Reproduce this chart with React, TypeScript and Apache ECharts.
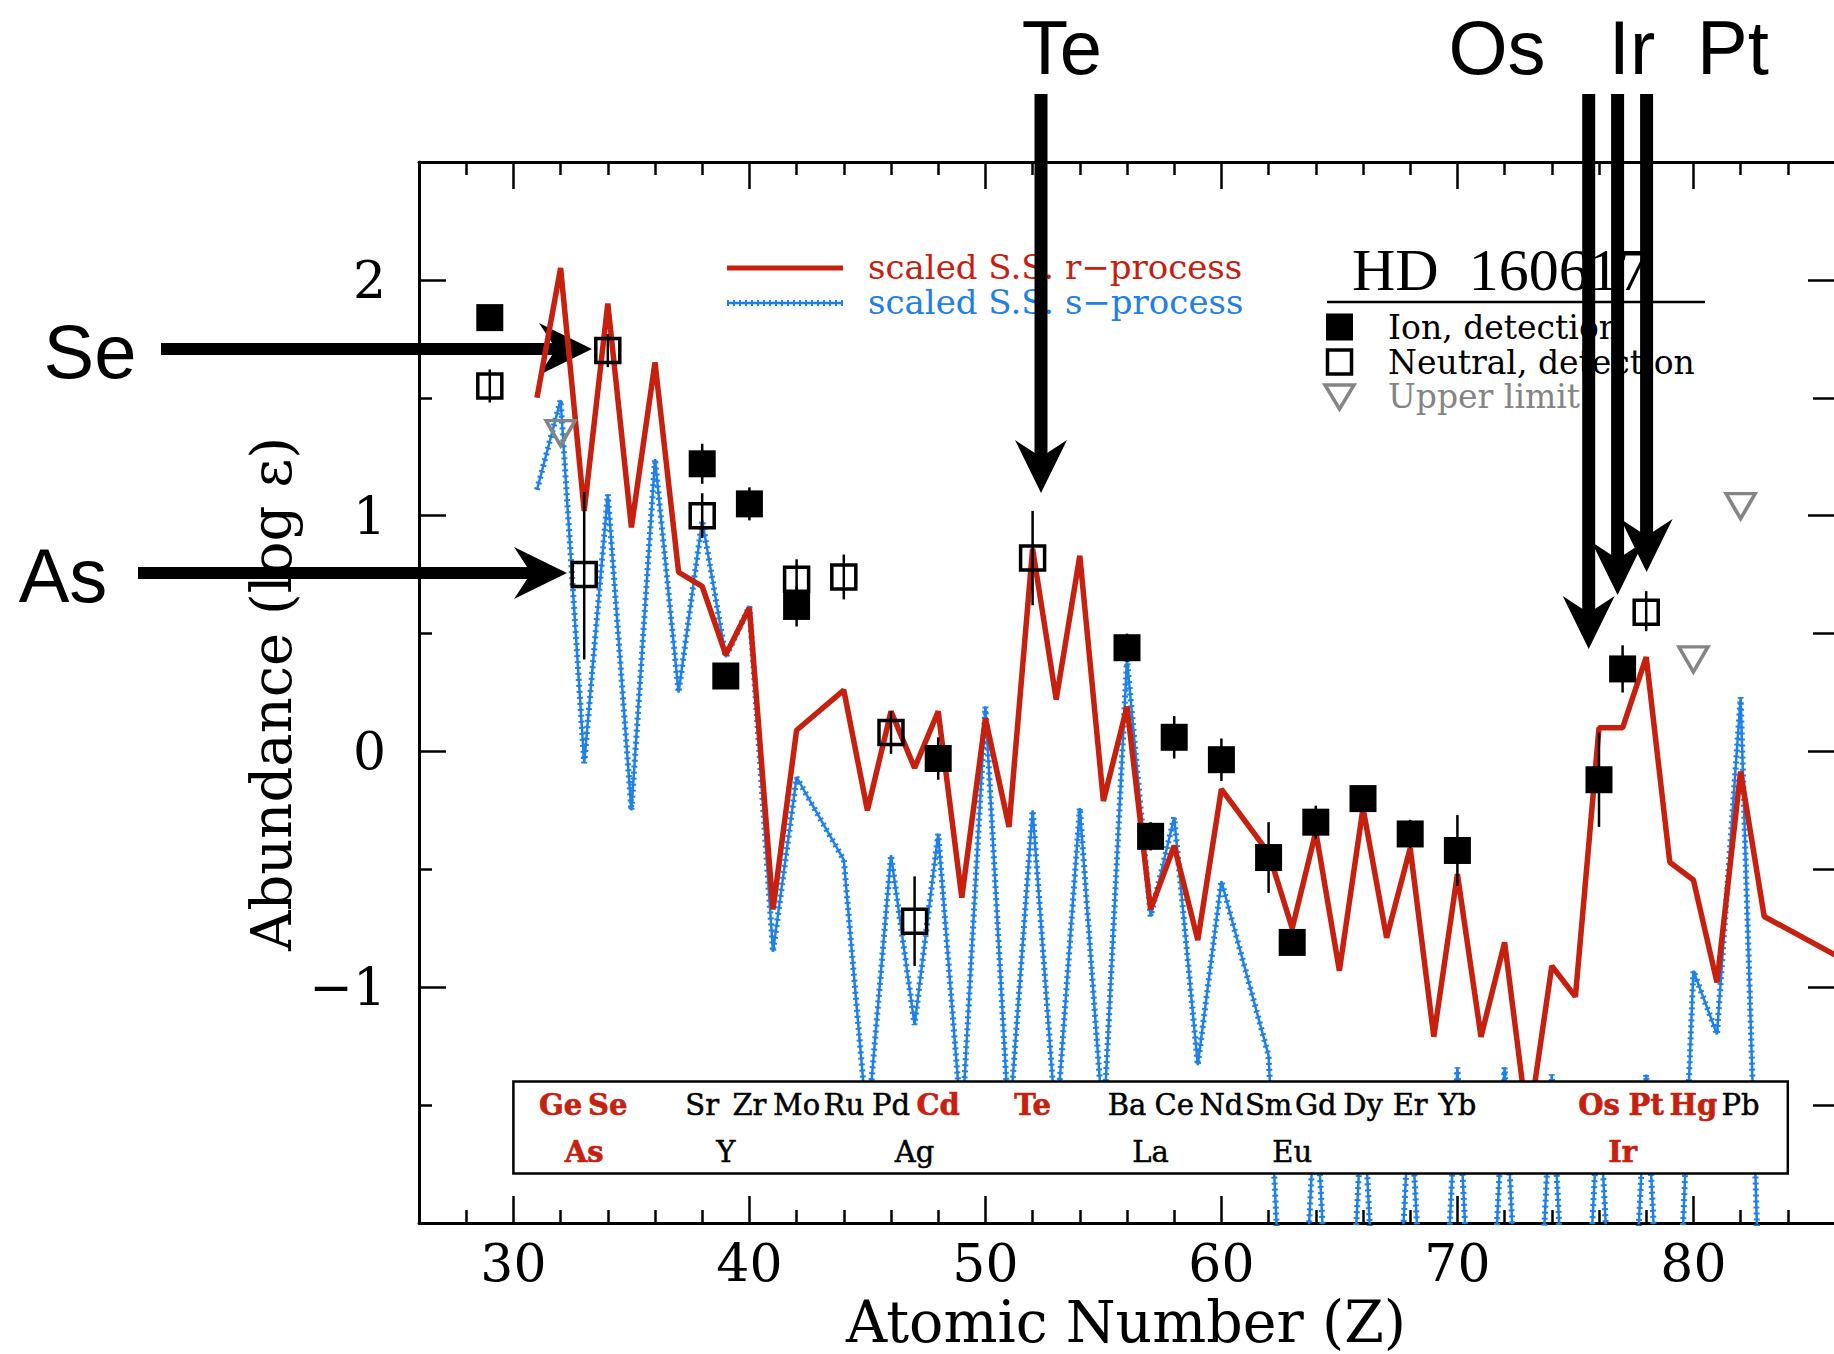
import React, { useEffect, useRef } from "react";
import * as echarts from "echarts";

// ---------------- data ----------------
const RED_Z = [31, 32, 33, 34, 35, 36, 37, 38, 39, 40, 41, 42, 44, 45, 46, 47, 48, 49, 50, 51, 52, 53, 54, 55, 56, 57, 58, 59, 60, 62, 63, 64, 65, 66, 67, 68, 69, 70, 71, 72, 73, 74, 75, 76, 77, 78, 79, 80, 81, 82, 83, 90];
const RED_V = [1.5, 2.05, 1.02, 1.9, 0.95, 1.65, 0.76, 0.7, 0.41, 0.61, -0.67, 0.09, 0.26, -0.25, 0.17, -0.07, 0.17, -0.62, 0.14, -0.32, 0.86, 0.22, 0.83, -0.21, 0.19, -0.67, -0.4, -0.8, -0.16, -0.43, -0.75, -0.34, -0.93, -0.24, -0.79, -0.41, -1.21, -0.52, -1.21, -0.81, -1.6, -0.91, -1.04, 0.1, 0.1, 0.4, -0.47, -0.545, -0.98, -0.085, -0.7, -1.08];

const BLUE_Z = [31, 32, 33, 34, 35, 36, 37, 38, 39, 40, 41, 42, 44, 45, 46, 47, 48, 49, 50, 51, 52, 53, 54, 55, 56, 57, 58, 59, 60, 62, 63, 64, 65, 66, 67, 68, 69, 70, 71, 72, 73, 74, 75, 76, 77, 78, 79, 80, 81, 82, 83];
const BLUE_V = [1.11, 1.49, -0.05, 1.09, -0.25, 1.24, 0.25, 0.98, 0.4, 0.615, -0.85, -0.11, -0.46, -1.6, -0.44, -1.16, -0.35, -1.6, 0.19, -1.6, -0.25, -1.6, -0.24, -1.6, 0.39, -0.7, -0.28, -1.33, -0.55, -1.29, -3.4, -1.45, -3.4, -1.45, -3.4, -1.45, -3.4, -1.34, -3.4, -1.34, -3.4, -1.37, -3.4, -1.45, -3.4, -1.37, -3.4, -0.93, -1.2, 0.23, -3.0];

// Ion detections (filled squares), symmetric errors
const ION_Z = [29, 38, 39, 40, 42, 48, 56, 57, 58, 60, 62, 63, 64, 66, 68, 70, 76, 77];
const ION_V = [1.84, 1.22, 0.32, 1.05, 0.615, -0.03, 0.44, -0.36, 0.06, -0.035, -0.45, -0.81, -0.3, -0.2, -0.35, -0.42, -0.12, 0.35];
const ION_ERR = [0, 0.085, 0, 0.07, 0.085, 0.09, 0.06, 0.06, 0.09, 0.09, 0.15, 0, 0.07, 0, 0.06, 0.15, 0.2, 0.1];

// Neutral detections (open squares), low / high error-bar ends
const NEU_Z = [29, 33, 34, 38, 42, 44, 46, 47, 52, 78];
const NEU_V = [1.55, 0.75, 1.7, 1.0, 0.73, 0.74, 0.08, -0.72, 0.82, 0.59];
const NEU_LO = [1.48, 0.39, 1.63, 0.905, 0.645, 0.645, -0.01, -0.91, 0.62, 0.51];
const NEU_HI = [1.62, 1.1, 1.77, 1.095, 0.815, 0.835, 0.17, -0.53, 1.02, 0.68];

// Upper limits (grey open triangles)
const UPPER_Z = [32, 80, 82];
const UPPER_V = [1.35, 0.39, 1.04];

// Element label rows in the bottom box
const TOP_LABELS = ["Ge", "Se", "Sr", "Zr", "Mo", "Ru", "Pd", "Cd", "Te", "Ba", "Ce", "Nd", "Sm", "Gd", "Dy", "Er", "Yb", "Os", "Pt", "Hg", "Pb"];
const TOP_LABEL_Z = [32, 34, 38, 40, 42, 44, 46, 48, 52, 56, 58, 60, 62, 64, 66, 68, 70, 76, 78, 80, 82];
const BOTTOM_LABELS = ["As", "Y", "Ag", "La", "Eu", "Ir"];
const BOTTOM_LABEL_Z = [33, 39, 47, 57, 63, 77];
const RED_LABELS = ["Ge", "Se", "As", "Cd", "Te", "Os", "Pt", "Hg", "Ir"];

// Axis ticks
const X_MAJOR = [30, 40, 50, 60, 70, 80];
const X_MINOR = [28, 32, 34, 36, 38, 42, 44, 46, 48, 52, 54, 56, 58, 62, 64, 66, 68, 72, 74, 76, 78, 82, 84];
const Y_MAJOR = [-1, 0, 1, 2];
const Y_MINOR = [-1.5, -0.5, 0.5, 1.5];

// ---------------- styles ----------------
const RED = "#c8200f";
const BLUE = "#1f80e8";
const GREY = "#858585";
const SERIF = '"DejaVu Serif", serif';
const TIMES = '"Liberation Serif", serif';
const SANS = '"Liberation Sans", Arial, sans-serif';

const X_MIN = 26;
const X_MAX = 86;
const Y_MIN = -2;
const Y_MAX = 2.5;
const BOX = [30, -1.4, 84, -1.79];
const ROW1 = -1.5;
const ROW2 = -1.7;

const zip = (a: number[], b: number[]) => a.map((v, i) => [v, b[i]]);

function xAxis(position: "bottom" | "top", ticks: number[], len: number, major: boolean, showLine: boolean) {
  return {
    type: "value",
    gridIndex: 0,
    position,
    min: X_MIN,
    max: X_MAX,
    axisLine: { show: showLine, onZero: false, lineStyle: { color: "#000", width: 3 } },
    axisTick: { show: true, inside: true, length: len, customValues: ticks, lineStyle: { color: "#000", width: 2.5 } },
    axisLabel: {
      show: major && position === "bottom",
      customValues: X_MAJOR,
      margin: 14,
      fontSize: 52,
      fontFamily: SERIF,
      color: "#000",
    },
    splitLine: { show: false },
  };
}

function yAxis(position: "left" | "right", ticks: number[], len: number, major: boolean, showLine: boolean) {
  return {
    type: "value",
    gridIndex: 0,
    position,
    min: Y_MIN,
    max: Y_MAX,
    axisLine: { show: showLine, onZero: false, lineStyle: { color: "#000", width: 3 } },
    axisTick: { show: true, inside: true, length: len, customValues: ticks, lineStyle: { color: "#000", width: 2.5 } },
    axisLabel: {
      show: major && position === "left",
      customValues: Y_MAJOR,
      margin: 33,
      fontSize: 52,
      fontFamily: SERIF,
      color: "#000",
      formatter: (v: number) => (v < 0 ? "\u2212" + Math.abs(v) : String(v)),
    },
    splitLine: { show: false },
  };
}

function arrowH(tipX: number, y: number, startX: number) {
  const len = 53, half = 26, notch = 17;
  return [
    { type: "rect", shape: { x: startX, y: y - 6, width: tipX - len + notch + 2 - startX, height: 12 }, style: { fill: "#000" } },
    { type: "polygon", shape: { points: [[tipX, y], [tipX - len, y - half], [tipX - len + notch, y], [tipX - len, y + half]] }, style: { fill: "#000" } },
  ];
}
function arrowV(x: number, tipY: number, startY: number) {
  const len = 53, half = 26, notch = 17;
  return [
    { type: "rect", shape: { x: x - 6.5, y: startY, width: 13, height: tipY - len + notch + 2 - startY }, style: { fill: "#000" } },
    { type: "polygon", shape: { points: [[x, tipY], [x - half, tipY - len], [x, tipY - len + notch], [x + half, tipY - len]] }, style: { fill: "#000" } },
  ];
}

function buildOption() {
  const labelItems = [
    ...TOP_LABELS.map((t, i) => ({ t, z: TOP_LABEL_Z[i], row: ROW1 })),
    ...BOTTOM_LABELS.map((t, i) => ({ t, z: BOTTOM_LABEL_Z[i], row: ROW2 })),
  ];
  const errData = [
    ...ION_Z.filter((_, i) => ION_ERR[i] > 0).map((z) => {
      const i = ION_Z.indexOf(z);
      return [z, ION_V[i] - ION_ERR[i], ION_V[i] + ION_ERR[i]];
    }),
    ...NEU_Z.map((z, i) => [z, NEU_LO[i], NEU_HI[i]]),
  ];

  const annText = (text: string, x: number, y: number) => ({
    type: "text",
    x,
    y,
    style: { text, fill: "#000", fontSize: 76, fontFamily: SANS, align: "center", verticalAlign: "middle" },
  });

  const graphic: any[] = [
    // legend of model curves
    { type: "line", shape: { x1: 727, y1: 268, x2: 843, y2: 268 }, style: { stroke: RED, lineWidth: 5 } },
    { type: "line", shape: { x1: 727, y1: 303, x2: 843, y2: 303 }, style: { stroke: BLUE, lineWidth: 2.5 } },
    { type: "line", shape: { x1: 727, y1: 303, x2: 843, y2: 303 }, style: { stroke: BLUE, lineWidth: 6, lineDash: [2, 4] } },
    { type: "text", x: 868, y: 267, style: { text: "scaled S.S. r\u2212process", fill: RED, fontSize: 34, fontFamily: SERIF, align: "left", verticalAlign: "middle" } },
    { type: "text", x: 868, y: 302, style: { text: "scaled S.S. s\u2212process", fill: BLUE, fontSize: 34, fontFamily: SERIF, align: "left", verticalAlign: "middle" } },
    // star legend
    { type: "text", x: 1352, y: 270, style: { text: "HD\u00a0\u00a0160617", fill: "#000", fontSize: 60, fontFamily: TIMES, align: "left", verticalAlign: "middle" } },
    { type: "line", shape: { x1: 1327, y1: 302, x2: 1705, y2: 302 }, style: { stroke: "#000", lineWidth: 2.5 } },
    { type: "rect", shape: { x: 1326, y: 313.5, width: 27, height: 27 }, style: { fill: "#000" } },
    { type: "rect", shape: { x: 1327.5, y: 350, width: 24, height: 24 }, style: { fill: "none", stroke: "#000", lineWidth: 3.5 } },
    { type: "polygon", shape: { points: [[1325, 385], [1354, 385], [1339.5, 409]] }, style: { fill: "none", stroke: GREY, lineWidth: 3.5 } },
    { type: "text", x: 1388, y: 327, style: { text: "Ion, detection", fill: "#000", fontSize: 33, fontFamily: SERIF, align: "left", verticalAlign: "middle" } },
    { type: "text", x: 1388, y: 362, style: { text: "Neutral, detection", fill: "#000", fontSize: 33, fontFamily: SERIF, align: "left", verticalAlign: "middle" } },
    { type: "text", x: 1388, y: 396, style: { text: "Upper limit", fill: GREY, fontSize: 33, fontFamily: SERIF, align: "left", verticalAlign: "middle" } },
    // axis titles
    { type: "text", x: 1126, y: 1322, style: { text: "Atomic Number (Z)", fill: "#000", fontSize: 57, fontFamily: SERIF, align: "center", verticalAlign: "middle" } },
    { type: "text", x: 271, y: 694, rotation: Math.PI / 2, style: { text: "Abundance (log \u03b5)", fill: "#000", fontSize: 56, fontFamily: SERIF, align: "center", verticalAlign: "middle" } },
    // annotation arrows
    ...arrowH(592, 349, 161),
    ...arrowH(567, 573, 138),
    ...arrowV(1041, 493, 94),
    ...arrowV(1588.7, 649, 94),
    ...arrowV(1617.6, 595, 94),
    ...arrowV(1646.6, 572, 94),
    annText("Se", 90, 351),
    annText("As", 63, 575),
    annText("Te", 1062, 47),
    annText("Os", 1497, 47),
    annText("Ir", 1632, 47),
    annText("Pt", 1733, 47),
  ];

  return {
    animation: false,
    backgroundColor: "#fff",
    grid: { left: 419, top: 162, width: 1416, height: 1061, containLabel: false, outerBoundsMode: "none" },
    xAxis: [
      xAxis("bottom", X_MAJOR, 27, true, true),
      xAxis("bottom", X_MINOR, 13, false, false),
      xAxis("top", X_MAJOR, 27, true, true),
      xAxis("top", X_MINOR, 13, false, false),
    ],
    yAxis: [
      yAxis("left", Y_MAJOR, 27, true, true),
      yAxis("left", Y_MINOR, 13, false, false),
      yAxis("right", Y_MAJOR, 27, true, true),
      yAxis("right", Y_MINOR, 22, false, false),
    ],
    series: [
      {
        type: "line",
        name: "s-process base",
        data: zip(BLUE_Z, BLUE_V),
        symbol: "none",
        lineStyle: { color: BLUE, width: 2.5 },
        z: 2,
        silent: true,
      },
      {
        type: "line",
        name: "scaled S.S. s-process",
        data: zip(BLUE_Z, BLUE_V),
        symbol: "none",
        lineStyle: { color: BLUE, width: 6, type: [2, 4] },
        z: 2,
        silent: true,
      },
      {
        type: "line",
        name: "scaled S.S. r-process",
        data: zip(RED_Z, RED_V),
        symbol: "none",
        lineStyle: { color: RED, width: 5.5 },
        z: 3,
        silent: true,
      },
      {
        type: "custom",
        name: "label box",
        xAxisIndex: 0,
        yAxisIndex: 0,
        z: 5,
        silent: true,
        data: [BOX],
        renderItem: (_p: any, api: any) => {
          const a = api.coord([api.value(0), api.value(1)]);
          const b = api.coord([api.value(2), api.value(3)]);
          return {
            type: "rect",
            shape: { x: a[0], y: a[1], width: b[0] - a[0], height: b[1] - a[1] },
            style: { fill: "#fff", stroke: "#000", lineWidth: 2.5 },
          };
        },
      },
      {
        type: "custom",
        name: "element labels",
        xAxisIndex: 0,
        yAxisIndex: 0,
        z: 6,
        silent: true,
        data: labelItems.map((d) => [d.z, d.row]),
        renderItem: (p: any, api: any) => {
          const d = labelItems[p.dataIndex];
          const pt = api.coord([api.value(0), api.value(1)]);
          const isRed = RED_LABELS.indexOf(d.t) >= 0;
          return {
            type: "text",
            x: pt[0],
            y: pt[1],
            style: {
              text: d.t,
              fill: isRed ? RED : "#000",
              fontSize: 29,
              fontWeight: isRed ? "bold" : "normal",
              fontFamily: SERIF,
              align: "center",
              verticalAlign: "middle",
              stroke: isRed ? RED : "#000",
              lineWidth: isRed ? 0.6 : 0.5,
            },
          };
        },
      },
      {
        type: "custom",
        name: "error bars",
        xAxisIndex: 0,
        yAxisIndex: 0,
        z: 7,
        silent: true,
        data: errData,
        renderItem: (_p: any, api: any) => {
          const a = api.coord([api.value(0), api.value(1)]);
          const b = api.coord([api.value(0), api.value(2)]);
          return {
            type: "line",
            shape: { x1: a[0], y1: a[1], x2: b[0], y2: b[1] },
            style: { stroke: "#000", lineWidth: 2.5 },
          };
        },
      },
      {
        type: "scatter",
        name: "Ion, detection",
        data: zip(ION_Z, ION_V),
        symbol: "rect",
        symbolSize: 27,
        itemStyle: { color: "#000", opacity: 1 },
        z: 8,
      },
      {
        type: "scatter",
        name: "Neutral, detection",
        data: zip(NEU_Z, NEU_V),
        symbol: "rect",
        symbolSize: 24,
        itemStyle: { color: "rgba(0,0,0,0)", borderColor: "#000", borderWidth: 3.5, opacity: 1 },
        z: 8,
      },
      {
        type: "scatter",
        name: "Upper limit",
        data: zip(UPPER_Z, UPPER_V),
        symbol: "path://M0,0 L30,0 L15,26 Z",
        symbolSize: [29, 25],
        itemStyle: { color: "rgba(0,0,0,0)", borderColor: GREY, borderWidth: 3.5, opacity: 1 },
        z: 8,
      },
    ],
    graphic,
  };
}

export default function App() {
  const ref = useRef<HTMLDivElement>(null);
  useEffect(() => {
    if (!ref.current) return;
    const chart = echarts.init(ref.current, null, { renderer: "svg" });
    chart.setOption(buildOption() as any);
    return () => chart.dispose();
  }, []);
  return (
    <div
      ref={ref}
      style={{ position: "absolute", left: 0, top: 0, width: 1834, height: 1354, background: "#fff" }}
    />
  );
}
